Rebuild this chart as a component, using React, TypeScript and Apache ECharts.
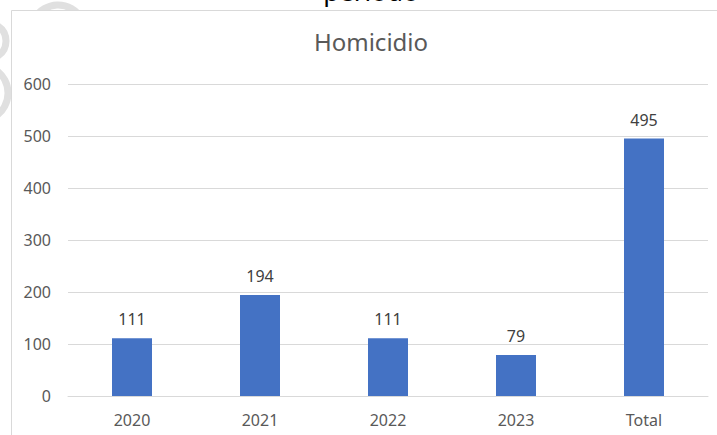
import React, { useEffect, useRef } from "react";
import * as echarts from "echarts";

const categories = ["2020", "2021", "2022", "2023", "Total"];
const homicidios = [111, 194, 111, 79, 495];
const yTicks = { min: 0, max: 600, interval: 100 };

const FONT = "'Noto Sans', 'Open Sans', sans-serif";
const GRAY_TEXT = "#595959";
const LINE = "#d9d9d9";
const WATERMARK = "#e0e0e0";

export default function App() {
  const ref = useRef<HTMLDivElement>(null);

  useEffect(() => {
    if (!ref.current) return;
    const chart = echarts.init(ref.current, null, { renderer: "svg" });
    chart.setOption({
      animation: false,
      backgroundColor: "#ffffff",
      textStyle: { fontFamily: FONT },
      graphic: [
        // faint watermark strokes behind the chart frame
        {
          type: "circle",
          z: -10,
          shape: { cx: 58, cy: 32, r: 27 },
          style: { fill: "none", stroke: WATERMARK, lineWidth: 7 },
        },
        {
          type: "circle",
          z: -10,
          shape: { cx: -12, cy: 41, r: 18 },
          style: { fill: "none", stroke: WATERMARK, lineWidth: 7 },
        },
        {
          type: "circle",
          z: -10,
          shape: { cx: -20, cy: 93, r: 28 },
          style: { fill: "none", stroke: WATERMARK, lineWidth: 7 },
        },
        // heading text running above the frame
        {
          type: "text",
          z: -5,
          x: 371,
          y: -9,
          style: {
            text: "periodo",
            fontSize: 26,
            fontFamily: FONT,
            fill: "#000000",
            align: "center",
            verticalAlign: "middle",
          },
        },
        // chart frame
        {
          type: "rect",
          z: -1,
          shape: { x: 11.5, y: 10.5, width: 760, height: 460 },
          style: { fill: "#ffffff", stroke: LINE, lineWidth: 1 },
        },
      ],
      title: {
        text: "Homicidio",
        left: 366,
        top: 24,
        textAlign: "center",
        textStyle: {
          fontFamily: FONT,
          fontSize: 24,
          fontWeight: "normal",
          color: GRAY_TEXT,
        },
      },
      grid: { left: 68, right: 9, top: 84, bottom: 39, containLabel: false },
      xAxis: {
        type: "category",
        data: categories,
        axisLine: { show: true, lineStyle: { color: LINE, width: 1 } },
        axisTick: { show: false },
        axisLabel: {
          color: GRAY_TEXT,
          fontSize: 16,
          fontFamily: FONT,
          margin: 16,
        },
      },
      yAxis: {
        type: "value",
        min: yTicks.min,
        max: yTicks.max,
        interval: yTicks.interval,
        axisLine: { show: false },
        axisTick: { show: false },
        splitLine: { lineStyle: { color: LINE, width: 1 } },
        axisLabel: {
          color: GRAY_TEXT,
          fontSize: 16,
          fontFamily: FONT,
          margin: 17,
        },
      },
      series: [
        {
          type: "bar",
          data: homicidios,
          barWidth: 40,
          itemStyle: { color: "#4472c4" },
          label: {
            show: true,
            position: "top",
            distance: 11,
            color: "#404040",
            fontSize: 16,
            fontFamily: FONT,
          },
        },
      ],
    });
    return () => chart.dispose();
  }, []);

  return (
    <div
      ref={ref}
      style={{ position: "fixed", left: 0, top: 0, width: 717, height: 435 }}
    />
  );
}
